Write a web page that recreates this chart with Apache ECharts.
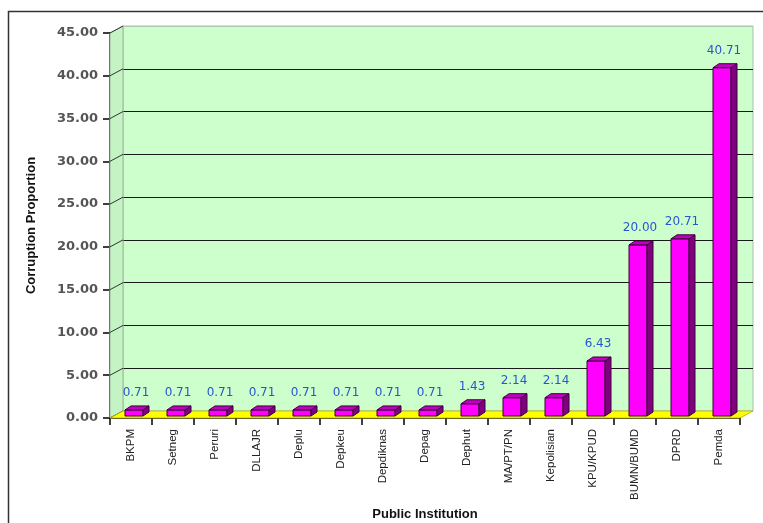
<!DOCTYPE html>
<html><head><meta charset="utf-8">
<script src="https://cdn.jsdelivr.net/npm/echarts@6/dist/echarts.min.js"></script>
<style>html,body{margin:0;padding:0;background:#fff}#c{width:763px;height:523px}</style>
</head><body><div id="c"></div>
<script>
var categories = ['BKPM','Setneg','Peruri','DLLAJR','Deplu','Depkeu','Depdiknas','Depag','Dephut','MA/PT/PN','Kepolisian','KPU/KPUD','BUMN/BUMD','DPRD','Pemda'];
var values = [0.71,0.71,0.71,0.71,0.71,0.71,0.71,0.71,1.43,2.14,2.14,6.43,20.00,20.71,40.71];
var yTicks = [0,5,10,15,20,25,30,35,40,45];

var GL = 110, GT = 33, GW = 630, GH = 385;   // front axes frame
var DX = 13, DY = 7;                           // 3D depth of walls
var chart = echarts.init(document.getElementById('c'), null, {renderer:'canvas'});

var splitColors = yTicks.map(function(v,i){ return (i===0)?'#cccc00':(i===yTicks.length-1?'#b0c8b0':'#1a1a1a'); });

var option = {
  backgroundColor:'#fff',
  animation:false,
  grid:[
    {left:GL, top:GT, width:GW, height:GH, show:false, containLabel:false, outerBoundsMode:'none'},
    {left:GL+DX, top:GT-DY, width:GW, height:GH, show:true, backgroundColor:'#ccffcc', borderColor:'#a9bfa9', borderWidth:1, containLabel:false, outerBoundsMode:'none'}
  ],
  xAxis:[
    {type:'category', gridIndex:0, data:categories, boundaryGap:true,
     axisLine:{show:true, lineStyle:{color:'#000', width:1.5}},
     axisTick:{show:true, alignWithLabel:false, interval:0, length:7, lineStyle:{color:'#000', width:1.5}},
     axisLabel:{interval:0, rotate:90, margin:11, color:'#222', fontSize:11.5, fontFamily:'Liberation Sans'},
     name:'Public Institution', nameLocation:'middle', nameGap:90,
     nameTextStyle:{fontFamily:'Liberation Sans', fontWeight:'bold', fontSize:13, color:'#111'}},
    {type:'category', gridIndex:1, data:categories, show:false}
  ],
  yAxis:[
    {type:'value', gridIndex:0, min:0, max:45, interval:5,
     axisLine:{show:true, lineStyle:{color:'#000', width:1.5}},
     axisTick:{show:true, length:7, lineStyle:{color:'#000', width:1.5}},
     splitLine:{show:false},
     axisLabel:{margin:12, color:'#555', fontSize:13, fontWeight:'bold', fontFamily:'DejaVu Sans',
       formatter:function(v){return v.toFixed(2);}},
     name:'Corruption Proportion', nameLocation:'middle', nameGap:72, nameRotate:90,
     nameTextStyle:{fontFamily:'Liberation Sans', fontWeight:'bold', fontSize:13, color:'#111'}},
    {type:'value', gridIndex:1, min:0, max:45, interval:5, show:true,
     axisLine:{show:false}, axisTick:{show:false}, axisLabel:{show:false},
     splitLine:{show:true, lineStyle:{color:splitColors, width:1.2}}}
  ],
  series:[{
    type:'custom', xAxisIndex:0, yAxisIndex:0, z:10,
    data: values.map(function(v,i){return [i,v];}),
    renderItem:function(params, api){
      var i = api.value(0), v = api.value(1);
      var p = api.coord([i, v]);
      var b = api.coord([i, 0]);
      var cx = p[0] + 3, top = p[1] - 2, base = b[1] - 2;
      var hw = 9, dx = 6, dy = 4;
      var txt = v.toFixed(2);
      return {type:'group', children:[
        {type:'rect', shape:{x:cx-hw, y:top, width:hw*2, height:base-top},
         style:{fill:'#ff00ff', stroke:'#3a003a', lineWidth:1}},
        {type:'polygon', shape:{points:[[cx+hw,top],[cx+hw+dx,top-dy],[cx+hw+dx,base-dy],[cx+hw,base]]},
         style:{fill:'#800080', stroke:'#3a003a', lineWidth:1}},
        {type:'polygon', shape:{points:[[cx-hw,top],[cx-hw+dx,top-dy],[cx+hw+dx,top-dy],[cx+hw,top]]},
         style:{fill:'#c000c0', stroke:'#3a003a', lineWidth:1}},
        {type:'text', x:cx+2, y:top-dy-13,
         style:{text:txt, fill:'#2a55d0', font:'12px "DejaVu Sans"', align:'center', verticalAlign:'middle'}}
      ]};
    }
  }]
};
chart.setOption(option);

// walls, floor, frame
var g = [];
var y0 = chart.convertToPixel({yAxisIndex:0}, 0);
var y45 = chart.convertToPixel({yAxisIndex:0}, 45);
g.push({type:'polygon', z:1, shape:{points:[[GL,y45],[GL+DX,y45-DY],[GL+DX,y0-DY],[GL,y0]]},
  style:{fill:'#c4f4c4', stroke:'#9ab59a', lineWidth:1}});
yTicks.forEach(function(t){
  var y = chart.convertToPixel({yAxisIndex:0}, t);
  g.push({type:'line', z:2, shape:{x1:GL, y1:y, x2:GL+DX, y2:y-DY}, style:{stroke:'#333', lineWidth:1}});
});
g.push({type:'polygon', z:3, shape:{points:[[GL,y0],[GL+DX,y0-DY],[GL+GW+DX,y0-DY],[GL+GW,y0]]},
  style:{fill:'#ffff00', stroke:'#b0b000', lineWidth:0.8}});
g.push({type:'rect', z:0, shape:{x:8.5, y:11.5, width:800, height:600},
  style:{fill:'none', stroke:'#333', lineWidth:1.5}});
chart.setOption({graphic:g});
</script></body></html>
